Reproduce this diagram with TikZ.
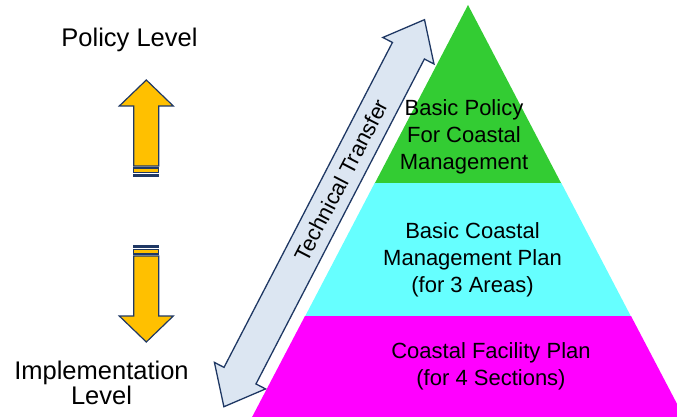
\documentclass[tikz,border=0pt]{standalone}
\usepackage{fontspec}
\setmainfont{Liberation Sans}
\usetikzlibrary{calc}
\definecolor{cmGreen}{HTML}{33CC33}
\definecolor{cmCyan}{HTML}{66FFFF}
\definecolor{cmMagenta}{HTML}{FF00FF}
\definecolor{cmYellow}{HTML}{FFC000}
\definecolor{cmPale}{HTML}{DCE6F2}
\definecolor{cmNavy}{HTML}{1F3864}
\tikzset{
  lvllbl/.style   = {font=\fontsize{25.5}{25}\selectfont, align=center, inner sep=0pt},
  tierlbl/.style  = {font=\fontsize{22}{27}\selectfont, align=center, inner sep=0pt},
  lvlarrow/.style = {fill=cmYellow, draw=cmNavy, line width=1.2pt},
  xferarrow/.style = {fill=cmPale, draw=cmNavy, line width=1.3pt},
}
\begin{document}
\begin{tikzpicture}[x=1pt, y=-1pt]
\useasboundingbox (0,0) rectangle (677,417);
% the three tiers of the pyramid
\begin{scope}
  \clip (0,0) rectangle (677,417);
  \fill[cmGreen] (468,5) -- (561.3,183.5) -- (374.7,183.5) -- cycle;
  \fill[cmCyan] (374.7,183) -- (561.3,183) -- (631,316.5) -- (305,316.5) -- cycle;
  \fill[cmMagenta] (305,316) -- (631,316) -- (686,421) -- (250,421) -- cycle;
\end{scope}
\node[tierlbl] (toptier) at (464,137) {Basic Policy\\For Coastal\\Management};
\node[tierlbl] (midtier) at (472.5,260) {Basic Coastal\\Management Plan\\(for 3 Areas)};
\node[tierlbl] (basetier) at (491,366.5) {Coastal Facility Plan\\(for 4 Sections)};
% level labels and striped arrows
\node[lvllbl] (policylbl) at (129.5,40) {Policy Level};
\node[lvllbl] (impllbl) at (101.5,383) {Implementation\\Level};
\begin{scope}[shift={(146.3,80)}]
  \draw[lvlarrow] (0,0) -- (27,26) -- (12.5,26) -- (12.5,86) -- (-12.5,86) -- (-12.5,26) -- (-27,26) -- cycle;
  \draw[lvlarrow] (-12.5,88) rectangle (12.5,92.5);
  \draw[lvlarrow] (-12.5,94.5) rectangle (12.5,96);
\end{scope}
\begin{scope}[shift={(146.3,342)}, yscale=-1]
  \draw[lvlarrow] (0,0) -- (27,26) -- (12.5,26) -- (12.5,86) -- (-12.5,86) -- (-12.5,26) -- (-27,26) -- cycle;
  \draw[lvlarrow] (-12.5,88) rectangle (12.5,92.5);
  \draw[lvlarrow] (-12.5,94.5) rectangle (12.5,96);
\end{scope}
% technical transfer, along the left side of the pyramid
\begin{scope}[shift={(324.2,213.2)}, rotate=62.6]
  \draw[xferarrow] (218,0) -- (183,28.8) -- (183,18) -- (-183,18) -- (-183,28.8) -- (-218,0)
    -- (-183,-28.8) -- (-183,-18) -- (183,-18) -- (183,-28.8) -- cycle;
  \node[tierlbl, rotate=62.6] (xferlbl) at (37,0) {Technical Transfer};
\end{scope}
\end{tikzpicture}
\end{document}
